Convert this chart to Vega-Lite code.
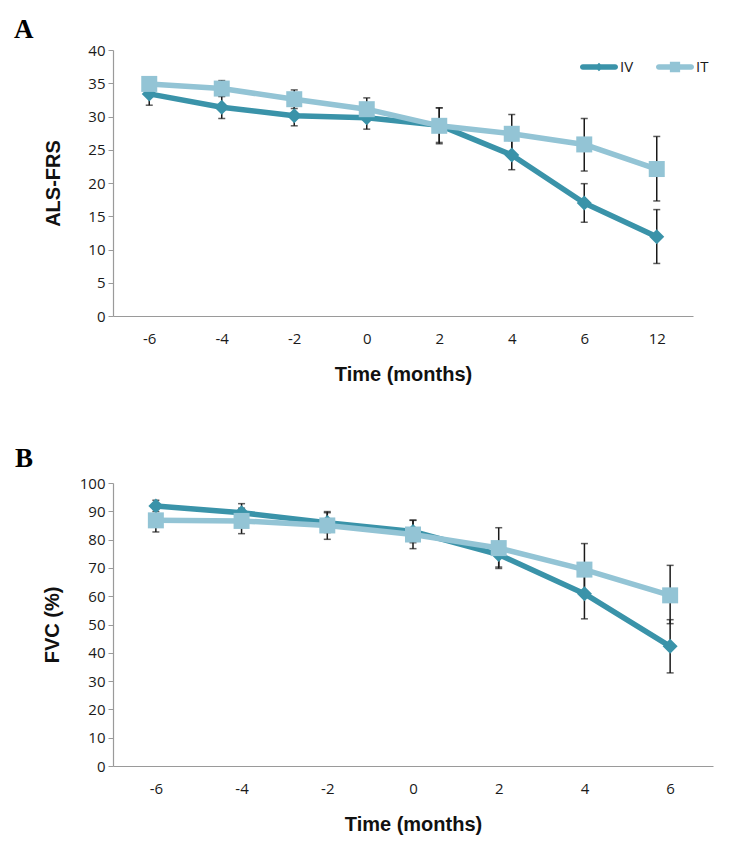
{
  "$schema": "https://vega.github.io/schema/vega-lite/v6.json",
  "background": "white",
  "padding": {"left": 14, "top": 16, "right": 10, "bottom": 10},
  "spacing": 61,
  "resolve": {"legend": {"color": "independent"}},
  "config": {
    "view": {"stroke": null},
    "axis": {
      "grid": false,
      "domainColor": "#9a9a9a",
      "domainWidth": 1.2,
      "tickColor": "#9a9a9a",
      "labelFont": "Open Sans",
      "labelFontSize": 15,
      "labelColor": "#1a1a1a",
      "titleFont": "Liberation Sans",
      "titleFontSize": 20,
      "titleFontWeight": "bold",
      "titleColor": "#111111"
    },
    "axisX": {"ticks": false, "labelAngle": 0, "labelPadding": 15, "titlePadding": 18},
    "axisY": {"tickSize": 5, "labelPadding": 3}
  },
  "vconcat": [
    {
      "width": 580,
      "height": 266,
      "title": {"text": "A", "anchor": "start", "frame": "group", "dx": -99, "offset": -22, "baseline": "alphabetic", "font": "Liberation Serif", "fontSize": 27, "fontWeight": "bold", "color": "#000000"},
      "data": {"values": [
        {"time": -6, "series": "IV", "value": 33.4, "lo": 31.7, "hi": 35.1},
        {"time": -4, "series": "IV", "value": 31.4, "lo": 29.7, "hi": 33.1},
        {"time": -2, "series": "IV", "value": 30.1, "lo": 28.6, "hi": 31.6},
        {"time": 0, "series": "IV", "value": 29.8, "lo": 28.1, "hi": 31.5},
        {"time": 2, "series": "IV", "value": 28.7, "lo": 26.1, "hi": 31.3},
        {"time": 4, "series": "IV", "value": 24.2, "lo": 22.0, "hi": 26.4},
        {"time": 6, "series": "IV", "value": 17.0, "lo": 14.1, "hi": 19.9},
        {"time": 12, "series": "IV", "value": 11.9, "lo": 7.9, "hi": 16.0},
        {"time": -6, "series": "IT", "value": 34.9, "lo": 33.9, "hi": 35.9},
        {"time": -4, "series": "IT", "value": 34.2, "lo": 33.0, "hi": 35.4},
        {"time": -2, "series": "IT", "value": 32.6, "lo": 31.2, "hi": 34.0},
        {"time": 0, "series": "IT", "value": 31.1, "lo": 29.4, "hi": 32.8},
        {"time": 2, "series": "IT", "value": 28.6, "lo": 25.9, "hi": 31.3},
        {"time": 4, "series": "IT", "value": 27.4, "lo": 24.5, "hi": 30.3},
        {"time": 6, "series": "IT", "value": 25.8, "lo": 21.8, "hi": 29.7},
        {"time": 12, "series": "IT", "value": 22.1, "lo": 17.3, "hi": 27.0}
      ]},
      "encoding": {
        "x": {"field": "time", "type": "ordinal", "scale": {"type": "point", "padding": 0.5}, "title": "Time (months)"}
      },
      "layer": [
        {
          "mark": {"type": "rule", "color": "#1a1a1a", "strokeWidth": 1.5},
          "encoding": {
            "y": {"field": "lo", "type": "quantitative", "title": "ALS-FRS", "scale": {"domain": [0, 40]}, "axis": {"values": [0, 5, 10, 15, 20, 25, 30, 35, 40], "titlePadding": 24}},
            "y2": {"field": "hi"}
          }
        },
        {
          "mark": {"type": "tick", "color": "#1a1a1a", "thickness": 1.5, "size": 7, "orient": "horizontal"},
          "encoding": {"y": {"field": "lo", "type": "quantitative", "title": "ALS-FRS", "axis": {"values": [0, 5, 10, 15, 20, 25, 30, 35, 40], "titlePadding": 24}}}
        },
        {
          "mark": {"type": "tick", "color": "#1a1a1a", "thickness": 1.5, "size": 7, "orient": "horizontal"},
          "encoding": {"y": {"field": "hi", "type": "quantitative", "title": "ALS-FRS", "axis": {"values": [0, 5, 10, 15, 20, 25, 30, 35, 40], "titlePadding": 24}}}
        },
        {
          "mark": {"type": "line", "strokeWidth": 5.5, "strokeJoin": "round", "strokeCap": "round"},
          "encoding": {
            "y": {"field": "value", "type": "quantitative", "title": "ALS-FRS", "axis": {"values": [0, 5, 10, 15, 20, 25, 30, 35, 40], "titlePadding": 24}},
            "color": {
              "field": "series", "type": "nominal",
              "scale": {"domain": ["IV", "IT"], "range": ["#3a93a9", "#93c4d5"]},
              "legend": {
                "title": null, "orient": "none", "legendX": 467, "legendY": -2, "direction": "horizontal",
                "symbolSize": 1444, "symbolStrokeWidth": 0,
                "labelFont": "Open Sans", "labelFontSize": 15, "labelColor": "#1a1a1a", "labelOffset": 2, "columnPadding": 22,
                "encode": {"symbols": {"update": {
                  "shape": {"signal": "datum.value === 'IV' ? 'M-0.85,-0.15H0.85A0.15,0.15 0 0 1 0.85,0.15H-0.85A0.15,0.15 0 0 1 -0.85,-0.15Z M0,-0.23L0.23,0L0,0.23L-0.23,0Z' : 'M-0.85,-0.15H0.85A0.15,0.15 0 0 1 0.85,0.15H-0.85A0.15,0.15 0 0 1 -0.85,-0.15Z M-0.27,-0.27H0.27V0.27H-0.27Z'"},
                  "fill": {"signal": "datum.value === 'IV' ? '#3a93a9' : '#93c4d5'"},
                  "stroke": {"value": "transparent"},
                  "opacity": {"value": 1}
                }}}
              }
            }
          }
        },
        {
          "mark": {"type": "point", "filled": true, "opacity": 1},
          "encoding": {
            "y": {"field": "value", "type": "quantitative", "title": "ALS-FRS", "axis": {"values": [0, 5, 10, 15, 20, 25, 30, 35, 40], "titlePadding": 24}},
            "color": {"field": "series", "type": "nominal", "scale": {"domain": ["IV", "IT"], "range": ["#3a93a9", "#93c4d5"]}},
            "shape": {"field": "series", "type": "nominal", "scale": {"domain": ["IV", "IT"], "range": ["diamond", "square"]}, "legend": null},
            "size": {"field": "series", "type": "nominal", "scale": {"domain": ["IV", "IT"], "range": [225, 256]}, "legend": null}
          }
        }
      ]
    },
    {
      "width": 600,
      "height": 283,
      "title": {"text": "B", "anchor": "start", "frame": "group", "dx": -98, "offset": -18, "baseline": "alphabetic", "font": "Liberation Serif", "fontSize": 27, "fontWeight": "bold", "color": "#000000"},
      "data": {"values": [
        {"time": -6, "series": "IV", "value": 91.9, "lo": 89.9, "hi": 93.9},
        {"time": -4, "series": "IV", "value": 89.5, "lo": 86.3, "hi": 92.7},
        {"time": -2, "series": "IV", "value": 86.0, "lo": 82.5, "hi": 89.5},
        {"time": 0, "series": "IV", "value": 82.9, "lo": 78.9, "hi": 86.9},
        {"time": 2, "series": "IV", "value": 74.7, "lo": 70.3, "hi": 79.1},
        {"time": 4, "series": "IV", "value": 60.9, "lo": 52.0, "hi": 69.8},
        {"time": 6, "series": "IV", "value": 42.3, "lo": 32.9, "hi": 51.7},
        {"time": -6, "series": "IT", "value": 86.8, "lo": 82.7, "hi": 90.9},
        {"time": -4, "series": "IT", "value": 86.6, "lo": 82.1, "hi": 91.1},
        {"time": -2, "series": "IT", "value": 85.0, "lo": 80.1, "hi": 89.9},
        {"time": 0, "series": "IT", "value": 81.8, "lo": 76.8, "hi": 86.8},
        {"time": 2, "series": "IT", "value": 77.0, "lo": 69.8, "hi": 84.2},
        {"time": 4, "series": "IT", "value": 69.4, "lo": 60.2, "hi": 78.6},
        {"time": 6, "series": "IT", "value": 60.3, "lo": 50.3, "hi": 70.9}
      ]},
      "encoding": {
        "x": {"field": "time", "type": "ordinal", "scale": {"type": "point", "padding": 0.5}, "title": "Time (months)"}
      },
      "layer": [
        {
          "mark": {"type": "rule", "color": "#1a1a1a", "strokeWidth": 1.5},
          "encoding": {
            "y": {"field": "lo", "type": "quantitative", "title": "FVC (%)", "scale": {"domain": [0, 100]}, "axis": {"values": [0, 10, 20, 30, 40, 50, 60, 70, 80, 90, 100], "titlePadding": 17}},
            "y2": {"field": "hi"}
          }
        },
        {
          "mark": {"type": "tick", "color": "#1a1a1a", "thickness": 1.5, "size": 7, "orient": "horizontal"},
          "encoding": {"y": {"field": "lo", "type": "quantitative", "title": "FVC (%)", "axis": {"values": [0, 10, 20, 30, 40, 50, 60, 70, 80, 90, 100], "titlePadding": 17}}}
        },
        {
          "mark": {"type": "tick", "color": "#1a1a1a", "thickness": 1.5, "size": 7, "orient": "horizontal"},
          "encoding": {"y": {"field": "hi", "type": "quantitative", "title": "FVC (%)", "axis": {"values": [0, 10, 20, 30, 40, 50, 60, 70, 80, 90, 100], "titlePadding": 17}}}
        },
        {
          "mark": {"type": "line", "strokeWidth": 5.5, "strokeJoin": "round", "strokeCap": "round"},
          "encoding": {
            "y": {"field": "value", "type": "quantitative", "title": "FVC (%)", "axis": {"values": [0, 10, 20, 30, 40, 50, 60, 70, 80, 90, 100], "titlePadding": 17}},
            "color": {"field": "series", "type": "nominal", "scale": {"domain": ["IV", "IT"], "range": ["#3a93a9", "#93c4d5"]}, "legend": null}
          }
        },
        {
          "mark": {"type": "point", "filled": true, "opacity": 1},
          "encoding": {
            "y": {"field": "value", "type": "quantitative", "title": "FVC (%)", "axis": {"values": [0, 10, 20, 30, 40, 50, 60, 70, 80, 90, 100], "titlePadding": 17}},
            "color": {"field": "series", "type": "nominal", "scale": {"domain": ["IV", "IT"], "range": ["#3a93a9", "#93c4d5"]}, "legend": null},
            "shape": {"field": "series", "type": "nominal", "scale": {"domain": ["IV", "IT"], "range": ["diamond", "square"]}, "legend": null},
            "size": {"field": "series", "type": "nominal", "scale": {"domain": ["IV", "IT"], "range": [225, 256]}, "legend": null}
          }
        }
      ]
    }
  ]
}
